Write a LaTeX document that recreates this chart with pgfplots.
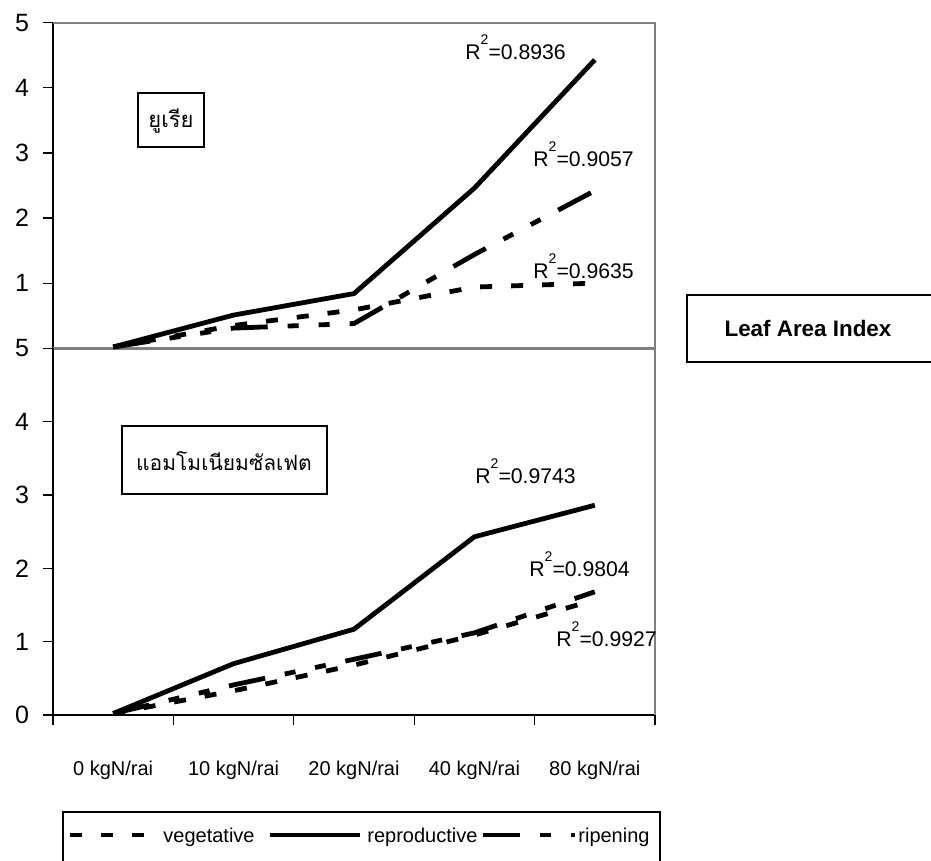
\documentclass[border=0pt]{standalone}
\usepackage{fontspec}
\setmainfont{Liberation Sans}
\newfontfamily\thaifont[Script=Thai]{Loma}
\usepackage{pgfplots}
\usepackage{pgfplotstable}
\pgfplotsset{compat=1.18}

% urea (top panel)
\pgfplotstableread{
x veg rep rip
1 0.02 0.02 0.02
2 0.35 0.51 0.31
3 0.59 0.84 0.38
4 0.94 2.46 1.44
5 1.00 4.43 2.42
}\urea
% ammonium sulfate (bottom panel)
\pgfplotstableread{
x veg rep rip
1 0.02 0.02 0.02
2 0.33 0.70 0.41
3 0.68 1.17 0.76
4 1.09 2.43 1.12
5 1.57 2.86 1.68
}\amsul

\tikzset{
  veg/.style={line width=2.4pt, dash pattern=on 6pt off 9.5pt},
  rep/.style={line width=2.4pt},
  rip/.style={line width=2.4pt, dash pattern=on 18.5pt off 10pt on 5.5pt off 10pt on 5.5pt off 10pt},
  rsq/.style={inner sep=0pt, anchor=base west, font=\fontsize{10.6}{12}\selectfont},
  leg/.style={inner sep=0pt, anchor=base west, font=\fontsize{10}{12}\selectfont},
}
\newcommand{\Rsq}[1]{R\raisebox{7.5pt}{\fontsize{7}{8}\selectfont 2}=#1}

\pgfplotsset{
  panel/.style={
    scale only axis, width=301pt,
    xmin=0.5, xmax=5.5, ymin=0, ymax=5,
    anchor=south west,
    axis y line*=left,
    y axis line style={black, line width=0.6pt},
    ytick style={black, line width=0.6pt},
    tick align=outside, major tick length=5pt,
    yticklabel style={font=\fontsize{12.5}{14}\selectfont, xshift=-3.5pt},
    /pgf/number format/assume math mode=true,
    clip=false,
  }
}

\begin{document}
\begin{tikzpicture}
\useasboundingbox (0,0) rectangle (465.5pt,430.5pt);

\begin{axis}[panel, at={(26.5pt,256.35pt)}, height=162.8pt,
  hide x axis, ytick={1,2,3,4,5}]
\draw[gray, line width=1pt] (rel axis cs:0,1) -- (rel axis cs:1,1) -- (rel axis cs:1,0);
\draw[gray, line width=1.5pt] (rel axis cs:0,0) -- (rel axis cs:1,0);
\addplot[veg] table[x=x,y=veg]{\urea};
\addplot[rep] table[x=x,y=rep]{\urea};
\addplot[rip] table[x=x,y=rip]{\urea};
\end{axis}

\begin{axis}[panel, at={(26.5pt,73pt)}, height=183.35pt,
  axis x line*=bottom,
  x axis line style={black, line width=0.6pt},
  xtick style={black, line width=0.6pt},
  xtick={0.5,1.5,2.5,3.5,4.5,5.5},
  x tick label as interval,
  xticklabels={0 kgN/rai,10 kgN/rai,20 kgN/rai,40 kgN/rai,80 kgN/rai,},
  xticklabel style={font=\fontsize{10}{12}\selectfont, yshift=-14.5pt},
  ytick={0,1,2,3,4,5}]
\draw[gray, line width=1pt] (rel axis cs:1,0) -- (rel axis cs:1,1);
\addplot[veg] table[x=x,y=veg]{\amsul};
\addplot[rep] table[x=x,y=rep]{\amsul};
\addplot[rip] table[x=x,y=rip]{\amsul};
\end{axis}

\begin{scope}[x=0.5pt,y=-0.5pt,shift={(0pt,430.5pt)}]
  % Thai boxes
  \draw[line width=1pt] (138,93) rectangle (204,147);
  \node at (171,121) {\thaifont\fontsize{11}{12}\selectfont ยูเรีย};
  \draw[line width=1pt] (122,426) rectangle (327,494);
  \node at (224,461) {\thaifont\fontsize{10.5}{12}\selectfont แอมโมเนียมซัลเฟต};
  % Leaf Area Index box
  \draw[line width=1pt] (945,295) -- (687,295) -- (687,362) -- (945,362);
  \node[font=\bfseries\fontsize{11.2}{13}\selectfont] at (808,329) {Leaf Area Index};
  % R^2 labels
  \node[rsq] at (465,60) {\Rsq{0.8936}};
  \node[rsq] at (533,167) {\Rsq{0.9057}};
  \node[rsq] at (533,279) {\Rsq{0.9635}};
  \node[rsq] at (475,484) {\Rsq{0.9743}};
  \node[rsq] at (529,577) {\Rsq{0.9804}};
  \node[rsq] at (556,647) {\Rsq{0.9927}};
  % legend
  \draw[line width=0.8pt] (63,880) -- (63,812) -- (660,812) -- (660,880);
  \draw[veg] (70,835) -- (144,835);
  \draw[rep] (270,835) -- (360,835);
  \draw[rip] (483,835) -- (575,835);
  \node[leg] at (163,843) {vegetative};
  \node[leg] at (367,843) {reproductive};
  \node[leg] at (578,843) {ripening};
\end{scope}
\end{tikzpicture}
\end{document}
